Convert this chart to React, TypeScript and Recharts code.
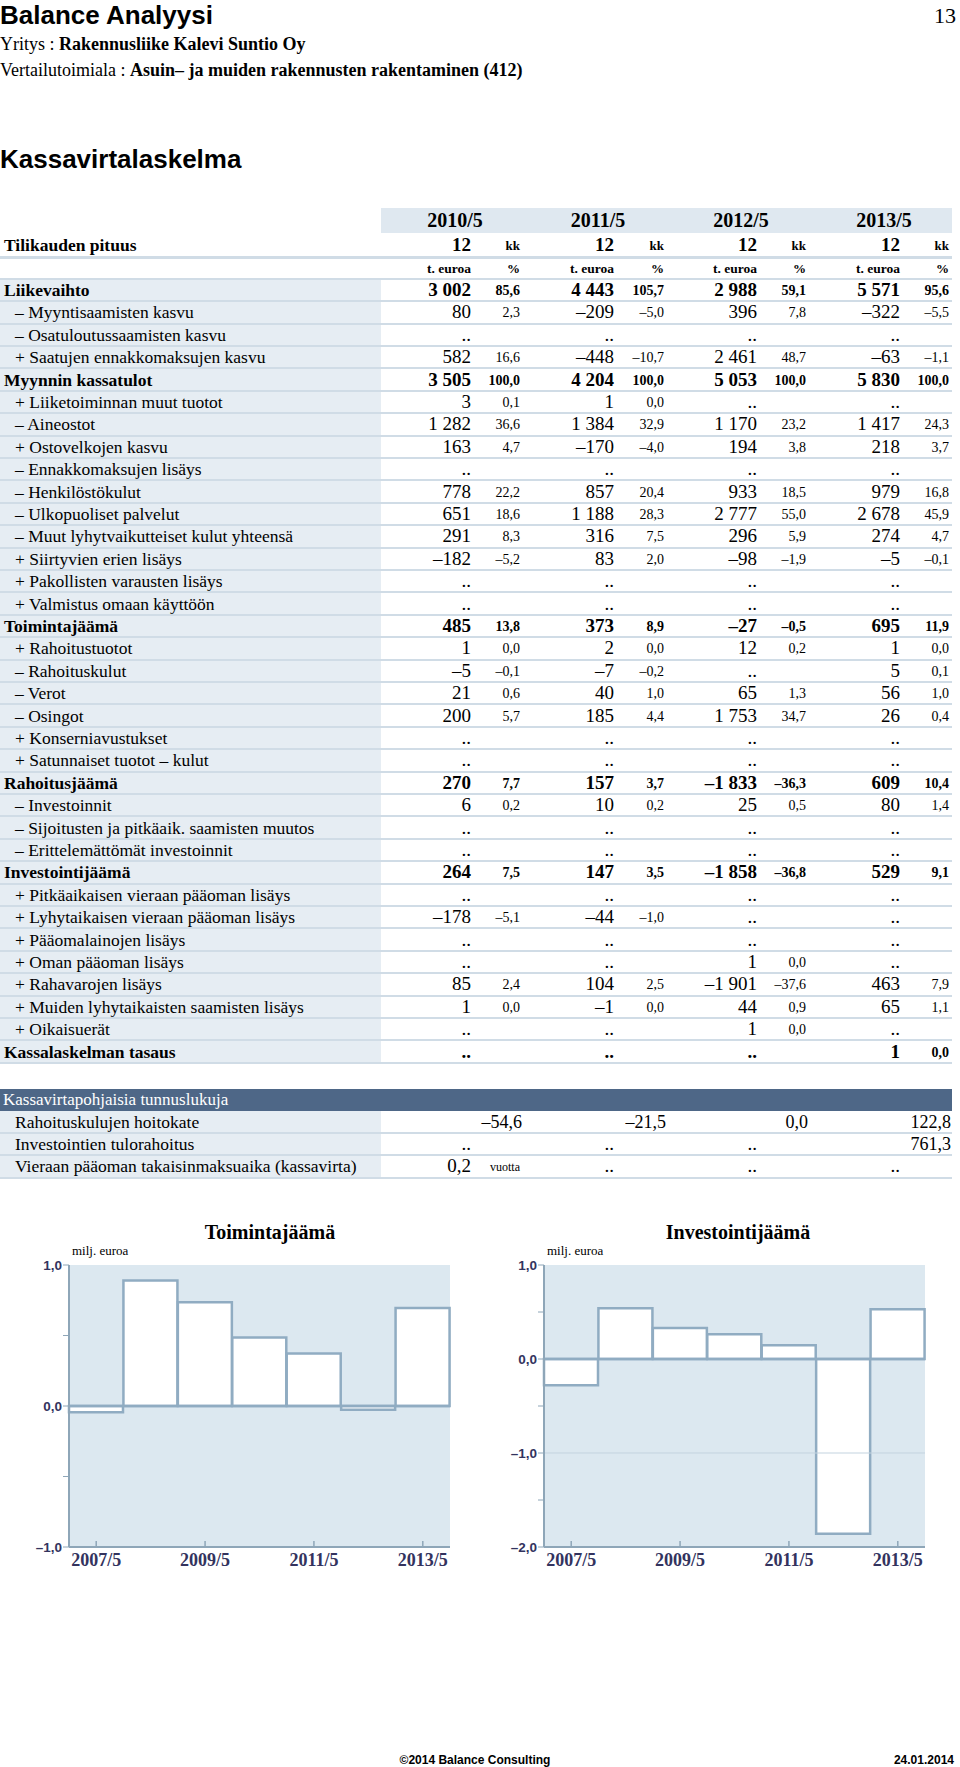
import React from "react";
import { BarChart, Bar, XAxis, YAxis, CartesianGrid, ReferenceLine } from "recharts";

const years = ["2010/5", "2011/5", "2012/5", "2013/5"];

const rowLabels = [
  "Liikevaihto",
  "– Myyntisaamisten kasvu",
  "– Osatuloutussaamisten kasvu",
  "+ Saatujen ennakkomaksujen kasvu",
  "Myynnin kassatulot",
  "+ Liiketoiminnan muut tuotot",
  "– Aineostot",
  "+ Ostovelkojen kasvu",
  "– Ennakkomaksujen lisäys",
  "– Henkilöstökulut",
  "– Ulkopuoliset palvelut",
  "– Muut lyhytvaikutteiset kulut yhteensä",
  "+ Siirtyvien erien lisäys",
  "+ Pakollisten varausten lisäys",
  "+ Valmistus omaan käyttöön",
  "Toimintajäämä",
  "+ Rahoitustuotot",
  "– Rahoituskulut",
  "– Verot",
  "– Osingot",
  "+ Konserniavustukset",
  "+ Satunnaiset tuotot – kulut",
  "Rahoitusjäämä",
  "– Investoinnit",
  "– Sijoitusten ja pitkäaik. saamisten muutos",
  "– Erittelemättömät investoinnit",
  "Investointijäämä",
  "+ Pitkäaikaisen vieraan pääoman lisäys",
  "+ Lyhytaikaisen vieraan pääoman lisäys",
  "+ Pääomalainojen lisäys",
  "+ Oman pääoman lisäys",
  "+ Rahavarojen lisäys",
  "+ Muiden lyhytaikaisten saamisten lisäys",
  "+ Oikaisuerät",
  "Kassalaskelman tasaus",
];

const boldRows = [0, 4, 15, 22, 26, 34];

// per row: value, % for 2010/5, 2011/5, 2012/5, 2013/5
const rowCells = [
  ["3 002", "85,6", "4 443", "105,7", "2 988", "59,1", "5 571", "95,6"],
  ["80", "2,3", "–209", "–5,0", "396", "7,8", "–322", "–5,5"],
  ["..", "", "..", "", "..", "", "..", ""],
  ["582", "16,6", "–448", "–10,7", "2 461", "48,7", "–63", "–1,1"],
  ["3 505", "100,0", "4 204", "100,0", "5 053", "100,0", "5 830", "100,0"],
  ["3", "0,1", "1", "0,0", "..", "", "..", ""],
  ["1 282", "36,6", "1 384", "32,9", "1 170", "23,2", "1 417", "24,3"],
  ["163", "4,7", "–170", "–4,0", "194", "3,8", "218", "3,7"],
  ["..", "", "..", "", "..", "", "..", ""],
  ["778", "22,2", "857", "20,4", "933", "18,5", "979", "16,8"],
  ["651", "18,6", "1 188", "28,3", "2 777", "55,0", "2 678", "45,9"],
  ["291", "8,3", "316", "7,5", "296", "5,9", "274", "4,7"],
  ["–182", "–5,2", "83", "2,0", "–98", "–1,9", "–5", "–0,1"],
  ["..", "", "..", "", "..", "", "..", ""],
  ["..", "", "..", "", "..", "", "..", ""],
  ["485", "13,8", "373", "8,9", "–27", "–0,5", "695", "11,9"],
  ["1", "0,0", "2", "0,0", "12", "0,2", "1", "0,0"],
  ["–5", "–0,1", "–7", "–0,2", "..", "", "5", "0,1"],
  ["21", "0,6", "40", "1,0", "65", "1,3", "56", "1,0"],
  ["200", "5,7", "185", "4,4", "1 753", "34,7", "26", "0,4"],
  ["..", "", "..", "", "..", "", "..", ""],
  ["..", "", "..", "", "..", "", "..", ""],
  ["270", "7,7", "157", "3,7", "–1 833", "–36,3", "609", "10,4"],
  ["6", "0,2", "10", "0,2", "25", "0,5", "80", "1,4"],
  ["..", "", "..", "", "..", "", "..", ""],
  ["..", "", "..", "", "..", "", "..", ""],
  ["264", "7,5", "147", "3,5", "–1 858", "–36,8", "529", "9,1"],
  ["..", "", "..", "", "..", "", "..", ""],
  ["–178", "–5,1", "–44", "–1,0", "..", "", "..", ""],
  ["..", "", "..", "", "..", "", "..", ""],
  ["..", "", "..", "", "1", "0,0", "..", ""],
  ["85", "2,4", "104", "2,5", "–1 901", "–37,6", "463", "7,9"],
  ["1", "0,0", "–1", "0,0", "44", "0,9", "65", "1,1"],
  ["..", "", "..", "", "1", "0,0", "..", ""],
  ["..", "", "..", "", "..", "", "1", "0,0"],
];

const ratioLabels = [
  "Rahoituskulujen hoitokate",
  "Investointien tulorahoitus",
  "Vieraan pääoman takaisinmaksuaika (kassavirta)",
];
const ratioCells = [
  ["–54,6", "–21,5", "0,0", "122,8"],
  ["..", "..", "..", "761,3"],
  ["0,2", "..", "..", ".."],
];
const ratioUnits = ["", "", "vuotta"];

const chartYears = ["2007/5", "2008/5", "2009/5", "2010/5", "2011/5", "2012/5", "2013/5"];
const toimintajaama = [-0.045, 0.89, 0.735, 0.485, 0.373, -0.027, 0.695];
const investointijaama = [-0.28, 0.54, 0.33, 0.264, 0.147, -1.858, 0.529];

const valRight = [471, 614, 757, 900];
const pctRight = [520, 664, 806, 949];

const ROW0 = 290;
const PITCH = 22.4;
const LINE = "#d0dce6";
const LABEL_BG = "#e6edf3";
const BAND = "#dfe8f0";
const BAR_STROKE = "#90acc2";
const AXIS = "#8ea6b8";
const PLOT_BG = "#dce8f0";
const NAVY = "#33335e";

const LABEL_SIZE = 17.5;
const VALUE_SIZE = 19;
const PCT_SIZE = 14;

type TxtProps = {
  x: number;
  y: number;
  text: string;
  align?: "left" | "right" | "center";
  size?: number;
  bold?: boolean;
  color?: string;
  family?: string;
};

function Txt({ x, y, text, align = "left", size = 16, bold = false, color = "#000", family }: TxtProps) {
  const w = 400;
  const left = align === "left" ? x : align === "right" ? x - w : x - w / 2;
  return (
    <div
      style={{
        position: "absolute",
        left,
        top: y - 15,
        width: align === "left" ? undefined : w,
        height: 30,
        lineHeight: "30px",
        textAlign: align,
        fontSize: size,
        fontWeight: bold ? "bold" : "normal",
        color,
        whiteSpace: "nowrap",
        fontFamily: family,
      }}
    >
      {text}
    </div>
  );
}

function HLine({ y, x1 = 0, x2 = 952, h = 2, color = LINE }: { y: number; x1?: number; x2?: number; h?: number; color?: string }) {
  return <div style={{ position: "absolute", left: x1, top: y - h / 2, width: x2 - x1, height: h, background: color }} />;
}

const fmtTick = (v: number) => (Number.isInteger(v) ? (v < 0 ? "–" : "") + Math.abs(v).toFixed(1).replace(".", ",") : "");

function YearTick(props: any) {
  const { x, y, payload } = props;
  return (
    <g>
      <line x1={x} x2={x} y1={y} y2={y - 6} stroke={AXIS} strokeWidth={1.5} />
      <text x={x} y={y + 19} textAnchor="middle" fill={NAVY} fontSize={18} fontWeight="bold" fontFamily="Liberation Serif">
        {payload.value}
      </text>
    </g>
  );
}

function JaamaChart({ values, domain, ticks, axisWidth, right }: { values: number[]; domain: [number, number]; ticks: number[]; axisWidth: number; right: number }) {
  const data = chartYears.map((year, i) => ({ year, value: values[i] }));
  return (
    <BarChart width={480} height={357} data={data} margin={{ top: 45, right, bottom: 0, left: 0 }} barCategoryGap={0} barGap={0}>
      <CartesianGrid fill={PLOT_BG} horizontal={false} vertical={false} />
      {domain[0] <= -2 && <ReferenceLine y={-1} stroke="#c3d3df" strokeWidth={1} />}
      <XAxis
        dataKey="year"
        interval={1}
        tickSize={0}
        tickMargin={0}
        tickLine={false}
        height={30}
        axisLine={{ stroke: AXIS, strokeWidth: 2 }}
        tick={YearTick}
      />
      <YAxis
        type="number"
        domain={domain}
        ticks={ticks}
        interval={0}
        width={axisWidth}
        tickSize={6}
        tickMargin={1}
        tickFormatter={fmtTick}
        axisLine={{ stroke: AXIS, strokeWidth: 2 }}
        tickLine={{ stroke: AXIS }}
        tick={{ fill: NAVY, fontSize: 13.5, fontWeight: "bold", fontFamily: "Liberation Sans" }}
      />
      <Bar dataKey="value" fill="#ffffff" stroke={BAR_STROKE} strokeWidth={2.5} isAnimationActive={false} />
      <ReferenceLine y={0} stroke={BAR_STROKE} strokeWidth={2.5} />
    </BarChart>
  );
}

export default function App() {
  const tableBottom = ROW0 + PITCH * (rowLabels.length - 0.5);
  return (
    <div style={{ position: "absolute", left: 0, top: 0, width: 960, height: 1767, background: "#fff", fontFamily: "Liberation Serif", overflow: "hidden" }}>
      {/* page header */}
      <Txt x={0} y={15} text="Balance Analyysi" size={26} bold family="Liberation Sans" />
      <Txt x={956} y={16} text="13" align="right" size={22} />
      <div style={{ position: "absolute", left: 0, top: 29, height: 30, lineHeight: "30px", fontSize: 18, whiteSpace: "nowrap" }}>
        Yritys : <b>Rakennusliike Kalevi Suntio Oy</b>
      </div>
      <div style={{ position: "absolute", left: 0, top: 55, height: 30, lineHeight: "30px", fontSize: 18, whiteSpace: "nowrap" }}>
        Vertailutoimiala : <b>Asuin– ja muiden rakennusten rakentaminen (412)</b>
      </div>
      <Txt x={0} y={159} text="Kassavirtalaskelma" size={26} bold family="Liberation Sans" />

      {/* table header */}
      <div style={{ position: "absolute", left: 381, top: 208, width: 571, height: 25, background: BAND }} />
      {years.map((y, i) => (
        <Txt key={y} x={valRight[i] - 16} y={220} text={y} align="center" size={20} bold />
      ))}
      <Txt x={4} y={245} text="Tilikauden pituus" size={LABEL_SIZE} bold />
      {years.map((y, i) => (
        <React.Fragment key={"kk" + y}>
          <Txt x={valRight[i]} y={245} text="12" align="right" size={VALUE_SIZE} bold />
          <Txt x={pctRight[i]} y={246} text="kk" align="right" size={13} bold />
        </React.Fragment>
      ))}
      <HLine y={257} h={3} />
      {years.map((y, i) => (
        <React.Fragment key={"unit" + y}>
          <Txt x={valRight[i]} y={269} text="t. euroa" align="right" size={13.5} bold />
          <Txt x={pctRight[i]} y={269} text="%" align="right" size={13} bold />
        </React.Fragment>
      ))}

      {/* table body */}
      <div style={{ position: "absolute", left: 0, top: ROW0 - PITCH / 2, width: 381, height: tableBottom - (ROW0 - PITCH / 2), background: LABEL_BG }} />
      <HLine y={ROW0 - PITCH / 2} />
      {rowLabels.map((label, r) => {
        const yc = ROW0 + r * PITCH;
        const bold = boldRows.includes(r);
        return (
          <React.Fragment key={label}>
            <Txt x={bold ? 4 : 15} y={yc} text={label} size={LABEL_SIZE} bold={bold} />
            {years.map((_, c) => (
              <React.Fragment key={c}>
                <Txt x={valRight[c]} y={yc} text={rowCells[r][c * 2]} align="right" size={VALUE_SIZE} bold={bold} />
                <Txt x={pctRight[c]} y={yc + 1} text={rowCells[r][c * 2 + 1]} align="right" size={PCT_SIZE} bold={bold} />
              </React.Fragment>
            ))}
            <HLine y={yc + PITCH / 2} />
          </React.Fragment>
        );
      })}

      {/* ratios */}
      <div style={{ position: "absolute", left: 0, top: 1089, width: 952, height: 22, background: "#4e6787" }} />
      <Txt x={3} y={1100} text="Kassavirtapohjaisia tunnuslukuja" size={17} color="#fff" />
      <div style={{ position: "absolute", left: 0, top: 1111, width: 381, height: 67, background: LABEL_BG }} />
      {ratioLabels.map((label, r) => {
        const yc = 1121.5 + r * 22.4;
        return (
          <React.Fragment key={label}>
            <Txt x={15} y={yc} text={label} size={LABEL_SIZE} />
            {ratioCells[r].map((v, c) => {
              if (v === "..") return <Txt key={c} x={valRight[c]} y={yc} text={v} align="right" size={VALUE_SIZE} />;
              if (c === 0 && ratioUnits[r])
                return (
                  <React.Fragment key={c}>
                    <Txt x={valRight[c]} y={yc} text={v} align="right" size={VALUE_SIZE} />
                    <Txt x={pctRight[c]} y={yc + 1} text={ratioUnits[r]} align="right" size={12} />
                  </React.Fragment>
                );
              return <Txt key={c} x={pctRight[c] + 2} y={yc} text={v} align="right" size={18} />;
            })}
            <HLine y={yc + 11.2} />
          </React.Fragment>
        );
      })}

      {/* charts */}
      <Txt x={270} y={1232} text="Toimintajäämä" align="center" size={20} bold />
      <Txt x={72} y={1251} text="milj. euroa" size={13} />
      <div style={{ position: "absolute", left: 0, top: 1220 }}>
        <JaamaChart values={toimintajaama} domain={[-1, 1]} ticks={[-1, -0.5, 0, 0.5, 1]} axisWidth={69} right={30} />
      </div>

      <Txt x={738} y={1232} text="Investointijäämä" align="center" size={20} bold />
      <Txt x={547} y={1251} text="milj. euroa" size={13} />
      <div style={{ position: "absolute", left: 480, top: 1220 }}>
        <JaamaChart values={investointijaama} domain={[-2, 1]} ticks={[-2, -1.5, -1, -0.5, 0, 0.5, 1]} axisWidth={64} right={35} />
      </div>

      {/* footer */}
      <Txt x={475} y={1760} text="©2014 Balance Consulting" align="center" size={12} bold family="Liberation Sans" />
      <Txt x={954} y={1760} text="24.01.2014" align="right" size={12} bold family="Liberation Sans" />
    </div>
  );
}
